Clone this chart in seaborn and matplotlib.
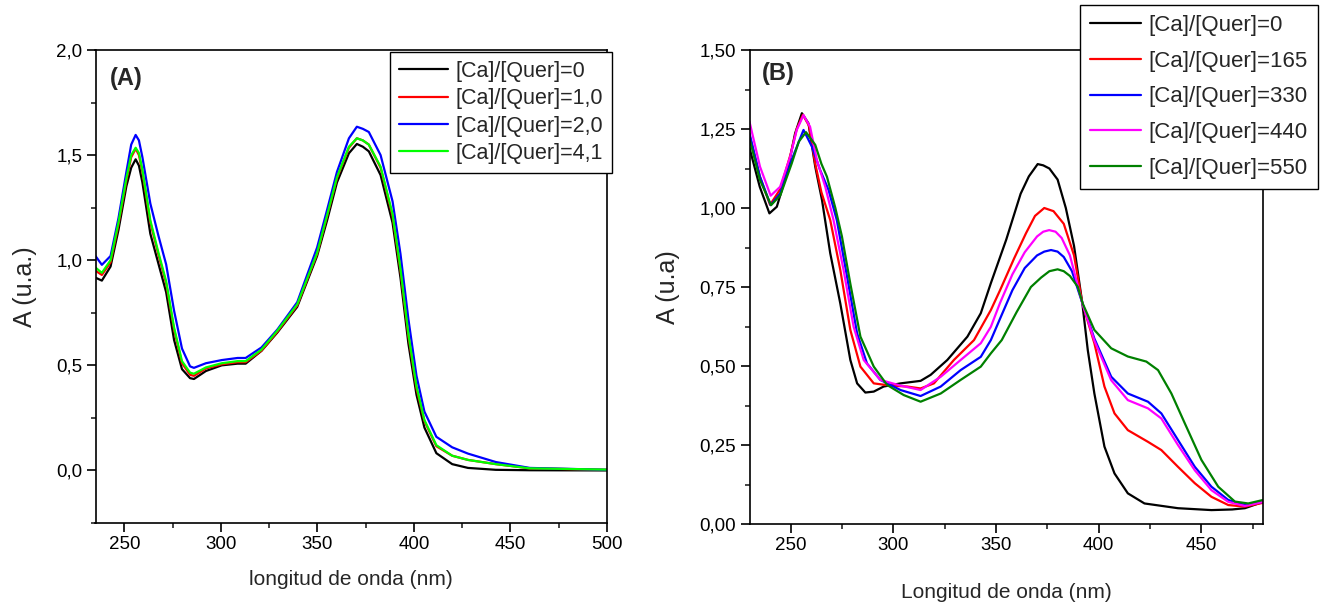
import numpy as np
import pandas as pd
import matplotlib
matplotlib.use("Agg")
import matplotlib.pyplot as plt
import matplotlib.ticker as mticker
from matplotlib.lines import Line2D
import seaborn as sns

sns.set_theme(style="white")
plt.rcParams['font.family'] = ['Liberation Sans', 'DejaVu Sans']

# ---------------- Panel A data ----------------
wl_A = [235, 238.3, 242.8, 246.9, 251, 253.5, 255.8, 257.5, 259.3, 263.4, 267.5, 271.6, 275.7, 279.8,
        284, 286, 292.2, 300.4, 308.6, 312.8, 321, 329.2, 339.5, 349.8, 355, 360.1, 366.3, 370.4,
        373.5, 376.6, 382.7, 388.9, 393, 397.1, 401.3, 405.4, 411.6, 419.8, 428, 442.4, 460, 500]
a_A_0 = [0.917, 0.903, 0.97, 1.144, 1.352, 1.44, 1.48, 1.45, 1.37, 1.126, 0.987, 0.848, 0.621, 0.482,
         0.439, 0.435, 0.473, 0.5, 0.508, 0.508, 0.569, 0.656, 0.778, 1.02, 1.19, 1.37, 1.509, 1.553,
         1.54, 1.518, 1.405, 1.178, 0.917, 0.604, 0.36, 0.204, 0.082, 0.03, 0.012, 0.003, 0.001, 0.0]
a_A_10 = [0.95, 0.93, 0.99, 1.17, 1.38, 1.49, 1.53, 1.50, 1.42, 1.18, 1.03, 0.89, 0.67, 0.51,
          0.455, 0.45, 0.485, 0.505, 0.515, 0.515, 0.57, 0.66, 0.785, 1.03, 1.21, 1.39, 1.535, 1.58,
          1.57, 1.55, 1.44, 1.21, 0.95, 0.64, 0.39, 0.235, 0.115, 0.07, 0.05, 0.03, 0.01, 0.003]
a_A_20 = [1.02, 0.978, 1.02, 1.2, 1.42, 1.55, 1.596, 1.57, 1.49, 1.27, 1.12, 0.98, 0.76, 0.58,
          0.495, 0.488, 0.51, 0.525, 0.535, 0.535, 0.585, 0.67, 0.8, 1.06, 1.24, 1.42, 1.58, 1.635,
          1.625, 1.61, 1.5, 1.28, 1.03, 0.72, 0.45, 0.28, 0.16, 0.11, 0.08, 0.04, 0.012, 0.003]
a_A_41 = [0.965, 0.94, 1.0, 1.18, 1.39, 1.50, 1.535, 1.51, 1.43, 1.19, 1.04, 0.90, 0.68, 0.52,
          0.465, 0.46, 0.49, 0.51, 0.52, 0.52, 0.575, 0.665, 0.79, 1.035, 1.215, 1.395, 1.54, 1.58,
          1.57, 1.55, 1.445, 1.22, 0.96, 0.65, 0.40, 0.24, 0.12, 0.07, 0.05, 0.03, 0.01, 0.004]
labels_A = ["[Ca]/[Quer]=0", "[Ca]/[Quer]=1,0", "[Ca]/[Quer]=2,0", "[Ca]/[Quer]=4,1"]
colors_A = ["#000000", "#ff0000", "#0000ff", "#00ff00"]

# ---------------- Panel B data ----------------
wl_B_0 = [230, 235, 239.7, 243.3, 248.2, 252.2, 255.5, 258.7, 262, 265.3, 269.3, 274.2, 279.1, 282.4,
          286.4, 290.5, 295.3, 303.5, 313.3, 318.2, 326.3, 336.1, 342.6, 347.5, 355, 362, 366,
          370.3, 373, 376, 380, 384, 388, 392, 394.7, 397.9, 402.8, 407.7, 414.2, 422.3, 438.6, 454.9,
          465, 471.2, 480]
a_B_0 = [1.19, 1.067, 0.983, 1.004, 1.11, 1.236, 1.30, 1.268, 1.131, 1.025, 0.857, 0.698, 0.519, 0.445,
         0.416, 0.419, 0.435, 0.445, 0.453, 0.472, 0.519, 0.593, 0.667, 0.762, 0.90, 1.045, 1.10,
         1.139, 1.135, 1.125, 1.09, 1.0, 0.88, 0.70, 0.55, 0.413, 0.245, 0.16, 0.097, 0.065, 0.05, 0.044,
         0.046, 0.05, 0.07]
wl_B_165 = [230, 235, 240, 245, 250, 253, 256, 259, 262, 265, 269.3, 274.2, 279.1, 284, 290.5, 298.6,
            306.8, 313.3, 319.8, 329.5, 339.3, 347.5, 352, 358.8, 364.6, 369, 373.5, 378, 383, 388,
            392, 397.9, 402.8, 407.7, 414.2, 424, 430.5, 438.6, 446.8, 454.9, 463.1, 471.2, 480]
a_B_165 = [1.23, 1.10, 1.01, 1.06, 1.17, 1.25, 1.295, 1.26, 1.14, 1.05, 0.962, 0.804, 0.614, 0.498, 0.445,
           0.438, 0.435, 0.429, 0.445, 0.519, 0.582, 0.677, 0.74, 0.84, 0.92, 0.975, 1.0, 0.99, 0.95,
           0.85, 0.70, 0.572, 0.435, 0.35, 0.297, 0.26, 0.234, 0.181, 0.129, 0.086, 0.06, 0.055, 0.067]
wl_B_330 = [230, 235.1, 240.3, 244.9, 250.5, 256.3, 260.4, 264.4, 268.5, 272.5, 277.5, 282.4, 287.2,
            293.7, 303.5, 313.3, 323.1, 332.8, 342.6, 347.5, 352, 358, 364, 370, 373.5, 376.8, 380,
            383, 387, 392, 397.9, 406.1, 414.2, 424, 430.5, 438.6, 446.8, 454.9, 463.1, 471.2, 480]
a_B_330 = [1.236, 1.099, 1.009, 1.046, 1.152, 1.247, 1.194, 1.12, 1.057, 0.962, 0.783, 0.603, 0.508,
           0.456, 0.424, 0.405, 0.435, 0.487, 0.529, 0.582, 0.65, 0.74, 0.81, 0.85, 0.862, 0.867, 0.862,
           0.845, 0.80, 0.70, 0.587, 0.466, 0.413, 0.387, 0.35, 0.266, 0.181, 0.118, 0.076, 0.06, 0.07]
wl_B_440 = [230, 235.1, 240.3, 244.9, 249.8, 253, 256.3, 259.5, 262.8, 266.9, 270.9, 275.8, 280.7,
            285.6, 293.7, 303.5, 313.3, 323.1, 332.8, 342.6, 347.5, 352, 358, 364, 370, 373, 375.9,
            379, 382, 386, 392, 397.9, 406.1, 414.2, 424, 430.5, 438.6, 446.8, 454.9, 463.1, 471.2, 480]
a_B_440 = [1.273, 1.131, 1.039, 1.067, 1.162, 1.247, 1.294, 1.257, 1.152, 1.067, 0.962, 0.804, 0.624,
           0.519, 0.456, 0.438, 0.424, 0.466, 0.519, 0.572, 0.624, 0.70, 0.79, 0.86, 0.91, 0.925, 0.93,
           0.925, 0.905, 0.85, 0.70, 0.58, 0.455, 0.392, 0.366, 0.334, 0.25, 0.17, 0.107, 0.07, 0.057, 0.07]
wl_B_550 = [230, 235, 240.5, 245, 250.5, 254, 257.5, 262, 265, 267.7, 271.8, 275, 279.1, 284, 290.5,
            297, 305.1, 313.3, 323.1, 332.8, 342.6, 347.5, 352.8, 360, 367, 372, 376, 380, 383, 386,
            389.8, 392.2, 397.9, 406.1, 414.2, 423.2, 428.9, 435.4, 441.9, 450, 458.2, 466.3,
            472.8, 480]
a_B_550 = [1.22, 1.09, 1.009, 1.04, 1.14, 1.21, 1.24, 1.20, 1.14, 1.099, 1.0, 0.91, 0.76, 0.593,
           0.498, 0.44, 0.408, 0.387, 0.413, 0.456, 0.498, 0.54, 0.582, 0.67, 0.75, 0.78, 0.80, 0.806,
           0.80, 0.785, 0.751, 0.698, 0.614, 0.556, 0.53, 0.514, 0.487, 0.413, 0.319, 0.203, 0.118, 0.071,
           0.065, 0.076]
labels_B = ["[Ca]/[Quer]=0", "[Ca]/[Quer]=165", "[Ca]/[Quer]=330", "[Ca]/[Quer]=440", "[Ca]/[Quer]=550"]
colors_B = ["#000000", "#ff0000", "#0000ff", "#ff00ff", "#008000"]

# ---------------- build long tables ----------------
dfA = pd.concat([
    pd.DataFrame({"wl": wl_A, "A": vals, "serie": lab})
    for vals, lab in zip([a_A_0, a_A_10, a_A_20, a_A_41], labels_A)
], ignore_index=True)
dfB = pd.concat([
    pd.DataFrame({"wl": w, "A": v, "serie": lab})
    for w, v, lab in zip([wl_B_0, wl_B_165, wl_B_330, wl_B_440, wl_B_550],
                         [a_B_0, a_B_165, a_B_330, a_B_440, a_B_550], labels_B)
], ignore_index=True)

W, H = 1329, 608
fig = plt.figure(figsize=(W / 100, H / 100), dpi=100)
axA = fig.add_axes([95.5 / W, 1 - 523 / H, (607 - 95.5) / W, (523 - 50) / H])
axB = fig.add_axes([749.5 / W, 1 - 524 / H, (1263 - 749.5) / W, (524 - 50) / H])

sns.lineplot(data=dfA, x="wl", y="A", hue="serie", palette=colors_A, hue_order=labels_A,
             ax=axA, linewidth=1.6, sort=False, estimator=None, legend=False)
sns.lineplot(data=dfB, x="wl", y="A", hue="serie", palette=colors_B, hue_order=labels_B,
             ax=axB, linewidth=1.6, sort=False, estimator=None, legend=False)


def comma_fmt(dec):
    return mticker.FuncFormatter(lambda v, p: f"{v:.{dec}f}".replace(".", ","))


def style(ax, xlim, ylim, ymaj, ymin, dec, xlabel, ylabel, xpad):
    ax.set_xlim(*xlim)
    ax.set_ylim(*ylim)
    ax.xaxis.set_major_locator(mticker.MultipleLocator(50))
    ax.xaxis.set_minor_locator(mticker.MultipleLocator(25))
    ax.yaxis.set_major_locator(mticker.MultipleLocator(ymaj))
    ax.yaxis.set_minor_locator(mticker.MultipleLocator(ymin))
    ax.yaxis.set_major_formatter(comma_fmt(dec))
    ax.xaxis.set_major_formatter(mticker.FuncFormatter(lambda v, p: f"{v:.0f}"))
    ax.tick_params(which="major", direction="out", length=6.5, width=1.2, labelsize=13.5,
                   colors="black", bottom=True, left=True, top=False, right=False, pad=3)
    ax.tick_params(which="minor", direction="out", length=3.5, width=1.2,
                   bottom=True, left=True, top=False, right=False)
    for s in ax.spines.values():
        s.set_visible(True)
        s.set_color("black")
        s.set_linewidth(1.2)
    ax.set_xlabel(xlabel, fontsize=15, labelpad=xpad)
    ax.set_ylabel(ylabel, fontsize=18, labelpad=14)
    ax.grid(False)


style(axA, (235, 500), (-0.25, 2.0), 0.5, 0.25, 1, "longitud de onda (nm)", "A (u.a.)", 12)
style(axB, (230, 480), (0.0, 1.5), 0.25, 0.125, 2, "Longitud de onda (nm)", "A (u.a)", 21)

axA.text(0.028, 0.965, "(A)", transform=axA.transAxes, fontsize=17, fontweight="bold", va="top")
axB.text(0.024, 0.975, "(B)", transform=axB.transAxes, fontsize=17, fontweight="bold", va="top")

hA = [Line2D([], [], color=c, lw=1.6) for c in colors_A]
legA = fig.legend(hA, labels_A, loc="upper right", bbox_to_anchor=(612 / W, 1 - 52 / H),
                  fontsize=15.5, frameon=True, fancybox=False, edgecolor="black", framealpha=1,
                  handlelength=2.3, handletextpad=0.35, labelspacing=0.3, borderpad=0.4,
                  borderaxespad=0)
legA.get_frame().set_linewidth(1.0)
hB = [Line2D([], [], color=c, lw=1.6) for c in colors_B]
legB = fig.legend(hB, labels_B, loc="upper right", bbox_to_anchor=(1318 / W, 1 - 5 / H),
                  fontsize=16, frameon=True, fancybox=False, edgecolor="black", framealpha=1,
                  handlelength=2.3, handletextpad=0.35, labelspacing=0.66, borderpad=0.45,
                  borderaxespad=0)
legB.get_frame().set_linewidth(1.0)

fig.savefig("out.png", dpi=100, facecolor="white")
